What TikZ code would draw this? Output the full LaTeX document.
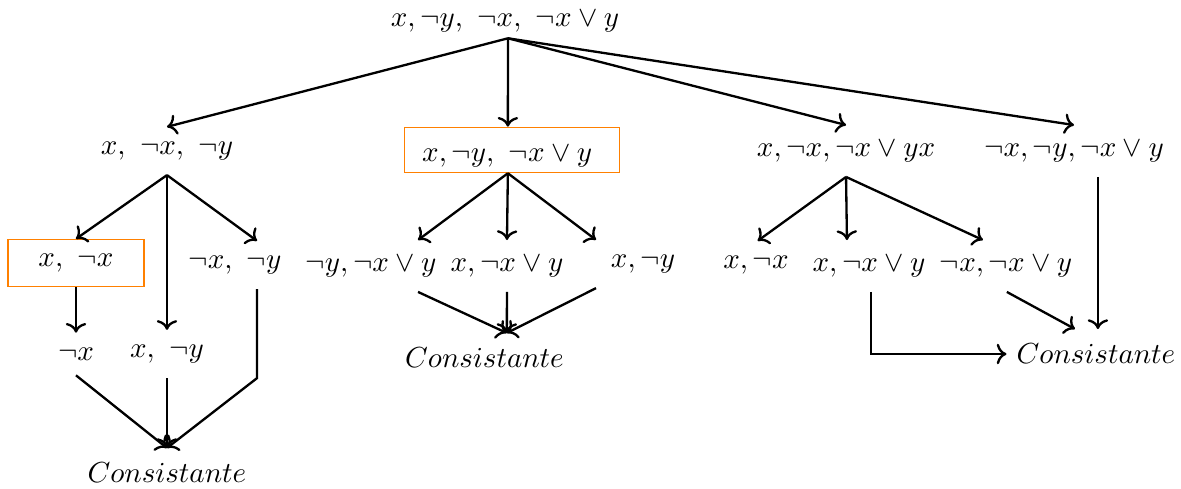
\documentclass[tikz,border=0pt]{standalone}
\usepackage{amsmath}
\usepackage{xcolor}
\usepackage{tikz}
\usetikzlibrary{arrows.meta,positioning}

\begin{document}
\begin{tikzpicture}[
  lbl/.style={inner ysep=5pt},
  hbox/.style={draw=orange, inner ysep=5pt, minimum height=0.55cm},
  arrow/.style={->, thick}
]
  \useasboundingbox (0,0) rectangle (14.315,-5.927);
  % root
  \node[inner ysep=2pt] (root) at (6.121,-0.255) {$x,\neg y,\ \neg x,\ \neg x\vee y$};
  % first level
  \node[lbl] (l1a) at (2.024,-1.83) {$x,\ \neg x,\ \neg y$};
  \node[hbox, inner ysep=1.8pt, text height=10pt, minimum width=2.606cm] (l1b) at (6.206,-1.818) {$x,\neg y,\ \neg x\vee y\ $};
  \node[lbl] (l1c) at (10.255,-1.83) {$x,\neg x,\neg x\vee yx$};
  \node[lbl] (l1d) at (13.018,-1.83) {$\neg x,\neg y,\neg x\vee y$};
  % left branch
  \node[hbox, minimum width=1.648cm] (b1) at (0.921,-3.188) {$x,\ \neg x$};
  \node[lbl] (n2) at (2.848,-3.212) {$\neg x,\ \neg y$};
  \node[lbl] (n3) at (0.921,-4.291) {$\neg x$};
  \node[lbl] (n4) at (2.024,-4.291) {$x,\ \neg y$};
  \node[lbl] (c1) at (2.024,-5.733) {$Consistante$};
  % middle branch
  \node[lbl] (m1) at (4.497,-3.224) {$\neg y,\neg x\vee y$};
  \node[lbl] (m2) at (6.145,-3.224) {$x,\neg x\vee y$};
  \node[lbl] (m3) at (7.794,-3.2) {$x,\neg y$};
  \node[lbl] (c2) at (5.873,-4.339) {$Consistante$};
  % right branch
  \node[lbl] (r1) at (9.164,-3.212) {$x,\neg x$};
  \node[lbl] (r2) at (10.533,-3.224) {$x,\neg x\vee y$};
  \node[lbl] (r3) at (12.194,-3.224) {$\neg x,\neg x\vee y$};
  \node[lbl] (c3) at (13.285,-4.291) {$Consistante$};

  \coordinate (rs) at ([xshift=0.036cm]root.south);
  \coordinate (l1bn) at ([xshift=-0.05cm]l1b.north);
  \coordinate (l1bs) at ([xshift=-0.05cm]l1b.south);
  \coordinate (n2s) at ([xshift=0.267cm]n2.south);
  \coordinate (c2n) at ([xshift=0.27cm]c2.north);
  \coordinate (r2s) at ([xshift=0.024cm]r2.south);
  \coordinate (l1ds) at ([xshift=0.29cm]l1d.south);

  \draw[arrow] (rs) -- (l1a.north);
  \draw[arrow] (rs) -- (l1bn);
  \draw[arrow] (rs) -- (l1c.north);
  \draw[arrow] (rs) -- (l1d.north);

  \draw[arrow] (l1a.south) -- (b1.north);
  \draw[arrow] (l1a.south) -- (n4.north);
  \draw[arrow] (l1a.south) -- ([xshift=0.267cm]n2.north);
  \draw[arrow] (b1.south) -- (n3.north);
  \draw[arrow] (n3.south) -- (c1.north);
  \draw[arrow] (n4.south) -- (c1.north);
  \draw[arrow] (n2s) -- (n2s |- n4.south) -- (c1.north);

  \draw[arrow] (l1bs) -- ([xshift=0.57cm]m1.north);
  \draw[arrow] (l1bs) -- (m2.north);
  \draw[arrow] (l1bs) -- ([xshift=-0.57cm]m3.north);
  \draw[arrow] ([xshift=0.57cm]m1.south) -- (c2n);
  \draw[arrow] (m2.south) -- (c2n);
  \draw[arrow] ([xshift=-0.57cm]m3.south) -- (c2n);

  \draw[arrow] (l1c.south) -- ([xshift=0.02cm]r1.north);
  \draw[arrow] (l1c.south) -- ([xshift=-0.267cm]r2.north);
  \draw[arrow] (l1c.south) -- ([xshift=-0.28cm]r3.north);
  \draw[arrow] (r2s) -- (r2s |- c3.west) -- (c3.west);
  \draw[arrow] ([xshift=0.01cm]r3.south) -- ([xshift=-0.255cm]c3.north);
  \draw[arrow] (l1ds) -- (l1ds |- c3.north);
\end{tikzpicture}
\end{document}
